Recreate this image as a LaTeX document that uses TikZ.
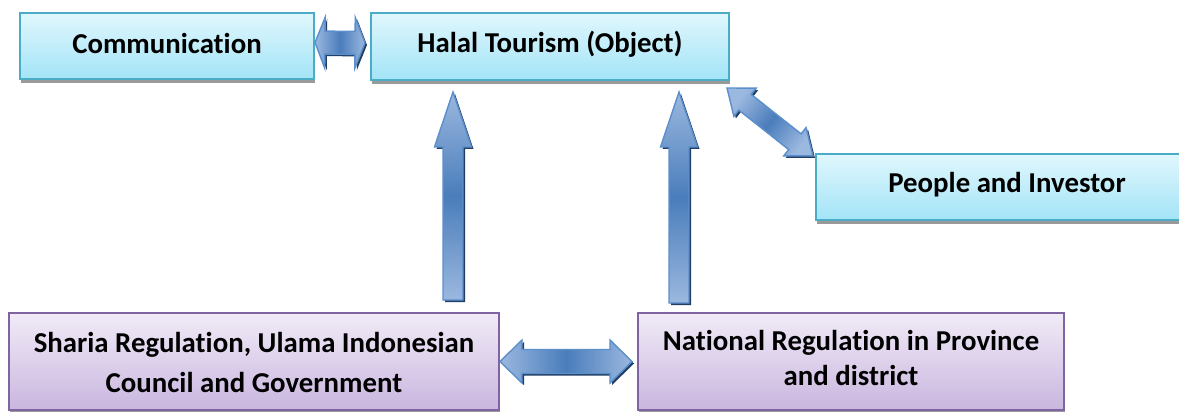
\documentclass[tikz,border=0pt]{standalone}
\usepackage{fontspec}
\setmainfont{Carlito}[Ligatures=NoCommon]
\usetikzlibrary{calc,shadows}
\definecolor{cyantop}{HTML}{E0F7FD}
\definecolor{cyanbot}{HTML}{A3E4F7}
\definecolor{cyanedge}{HTML}{4BACC6}
\definecolor{purtop}{HTML}{F1EBF7}
\definecolor{purbot}{HTML}{C9B6DF}
\definecolor{puredge}{HTML}{8064A2}
\definecolor{arrlight}{HTML}{9BB8DF}
\definecolor{arrdark}{HTML}{4A7DBB}
\definecolor{arredge}{HTML}{5B8FCC}
\definecolor{arrshadow}{HTML}{223E62}
\definecolor{boxshadow}{HTML}{9A9A9A}

\def\pxpt{0.569055}
\def\dblpath{(0pt,0pt) -- (\faL pt,\fah pt) -- (\faL pt,\faw pt) -- (\faM pt,\faw pt) -- (\faM pt,\fah pt) -- (\falen pt,0pt) -- (\faM pt,-\fah pt) -- (\faM pt,-\faw pt) -- (\faL pt,-\faw pt) -- (\faL pt,-\fah pt) -- cycle}
\def\sglpath{(0pt,\faw pt) -- (\faM pt,\faw pt) -- (\faM pt,\fah pt) -- (\falen pt,0pt) -- (\faM pt,-\fah pt) -- (\faM pt,-\faw pt) -- (0pt,-\faw pt) -- cycle}
% #1 from, #2 to, #3 half shaft, #4 half head, #5 head length (px), #6 style, #7 1=single 2=double
\newcommand\fatarrow[7]{%
  \pgfpointdiff{\pgfpointanchor{#1}{center}}{\pgfpointanchor{#2}{center}}%
  \pgfgetlastxy{\fadx}{\fady}%
  \pgfmathsetmacro\falen{veclen(\fadx,\fady)}%
  \pgfmathsetmacro\faang{atan2(\fady,\fadx)}%
  \pgfmathsetmacro\faw{#3*\pxpt}%
  \pgfmathsetmacro\fah{#4*\pxpt}%
  \pgfmathsetmacro\faL{#5*\pxpt}%
  \pgfmathsetmacro\faM{\falen-\faL}%
  \ifnum#7=2 \let\fapath\dblpath\else\let\fapath\sglpath\fi
  \begin{scope}[shift={($(#1)+(2,-2)$)},rotate=\faang]
    \fill[arrshadow] \fapath;
  \end{scope}
  \begin{scope}[shift={(#1)},rotate=\faang]
    \path[#6] \fapath;
  \end{scope}}

\tikzset{
  sz/.style 2 args={minimum width={#1*0.02cm}, minimum height={#2*0.02cm}},
  boxbase/.style={line width=1.1pt, inner sep=0pt, outer sep=0pt,
    drop shadow={shadow xshift=0.6pt, shadow yshift=-2.3pt, fill=boxshadow, opacity=1}},
  cyanbox/.style={boxbase, draw=cyanedge, top color=cyantop, bottom color=cyanbot},
  purbox/.style={boxbase, draw=puredge, top color=purtop, bottom color=purbot},
  lbl/.style={font=\fontsize{16.4}{20}\selectfont\bfseries, inner sep=0pt, anchor=base, text=black},
  fat/.style={draw=arredge, line width=0.8pt, top color=arrlight, bottom color=arrlight,
    middle color=arrdark, shading angle={90+\faang}}
}

\begin{document}
\begin{tikzpicture}[x=0.02cm, y=0.02cm]
\useasboundingbox (0,0) rectangle (1179,-412);
\fill[white] (0,0) rectangle (1179,-412);

% boxes
\node[cyanbox, sz={294}{66}] (comm) at (167,-46) {};
\node[cyanbox, sz={358}{67}] (halal) at (550,-46.5) {};
\node[cyanbox, sz={382}{66}] (people) at (1007,-187) {};
\node[purbox, sz={490}{97}] (sharia) at (254,-361.5) {};
\node[purbox, sz={426}{97}] (national) at (851,-361.5) {};

% labels
\node[lbl] (commt) at (167,-54) {Communication};
\node[lbl] (halalt) at (550,-53) {Halal Tourism (Object)};
\node[lbl] (peoplet) at (1007,-192) {People and Investor};
\node[lbl] (shariat1) at (254,-352) {Sharia Regulation, Ulama Indonesian};
\node[lbl] (shariat2) at (254,-392) {Council and Government};
\node[lbl] (nationalt1) at (851,-350) {National Regulation in Province};
\node[lbl] (nationalt2) at (851,-385) {and district};

% connector end points
\coordinate (h1a) at ($(comm.east)+(1,3.5)$);
\coordinate (h1b) at ($(halal.west)+(-6,3.5)$);
\coordinate (v1a) at ($(sharia.north)+(199,13)$);
\coordinate (v1b) at ($(halal.south)+(-97,-12)$);
\coordinate (v2a) at ($(national.north)+(-172,10)$);
\coordinate (v2b) at ($(halal.south)+(129,-12)$);
\coordinate (d1a) at ($(halal.south east)+(-2,-8)$);
\coordinate (d1b) at ($(people.north west)+(-3,-2)$);
\coordinate (b1a) at ($(sharia.east)+(1,0)$);
\coordinate (b1b) at ($(national.west)+(-6,0)$);

% block arrows
\fatarrow{h1a}{h1b}{11.5}{25.5}{10}{fat}{2}
\fatarrow{v1a}{v1b}{10}{18.5}{55}{fat}{1}
\fatarrow{v2a}{v2b}{10}{18.5}{55}{fat}{1}
\fatarrow{d1a}{d1b}{10}{18}{23}{fat}{2}
\fatarrow{b1a}{b1b}{12}{21.5}{22}{fat}{2}
\end{tikzpicture}
\end{document}
